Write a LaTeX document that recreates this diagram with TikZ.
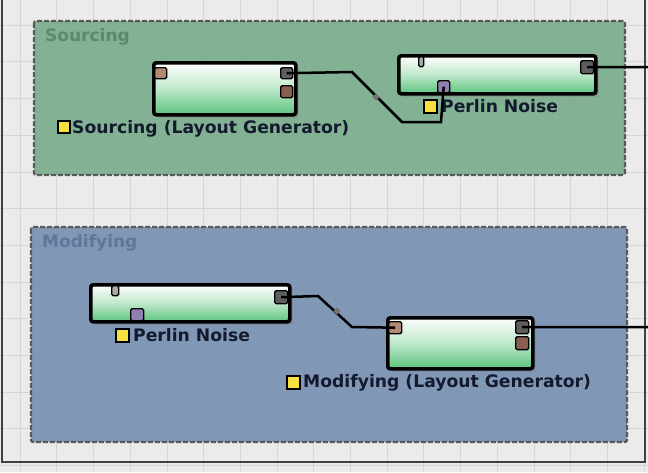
\documentclass[tikz,border=0pt]{standalone}
\usepackage{fontspec}
\setmainfont{DejaVu Sans}
\usetikzlibrary{shadows}
\definecolor{bg}{HTML}{EBEBEB}
\definecolor{gridc}{HTML}{D6D6D6}
\definecolor{srcfill}{HTML}{7AAE8C}
\definecolor{modfill}{HTML}{7890B2}
\definecolor{srctext}{HTML}{5A8A6A}
\definecolor{modtext}{HTML}{62769A}
\definecolor{nodegreen}{HTML}{5CC47C}
\definecolor{labeltext}{HTML}{141A2E}
\definecolor{porttan}{HTML}{B08A72}
\definecolor{portgray}{HTML}{5E5E5E}
\definecolor{portbrown}{HTML}{8A5E4E}
\definecolor{portpurple}{HTML}{9080B4}
\definecolor{porttab}{HTML}{A8A8A8}
\definecolor{yel}{HTML}{F8E040}
\begin{document}
\begin{tikzpicture}[x=1pt,y=-1pt,
  group/.style={draw=black!65, line width=2.2pt, dash pattern=on 5pt off 2pt, rounded corners=2pt},
  grouplabel/.style={anchor=west, inner sep=0pt, font=\bfseries\fontsize{17}{19}\selectfont},
  genbox/.style={draw=black, line width=3.6pt, rounded corners=2.5pt, top color=white, bottom color=nodegreen, middle color=nodegreen!40, anchor=north west, inner sep=0pt, drop shadow={shadow xshift=3pt, shadow yshift=-3pt, opacity=0.35}},
  port/.style={draw=black, line width=1.4pt, rounded corners=1.5pt, inner sep=0pt, anchor=north west},
  tag/.style={draw=black, line width=2.4pt, fill=yel, minimum width=12pt, minimum height=12pt, inner sep=0pt, anchor=north west},
  lbl/.style={anchor=west, inner sep=0pt, text=labeltext, font=\bfseries\fontsize{17.2}{19}\selectfont},
  wire/.style={draw=black, line width=2.5pt},
  dot/.style={fill=black!55, minimum size=5pt, inner sep=0pt}
]
\useasboundingbox (0,0) rectangle (648,472);
\fill[bg] (0,0) rectangle (648,472);
% grid
\foreach \i in {0,...,17} {\draw[gridc, line width=0.6pt] ({20+36.7*\i},0) -- ({20+36.7*\i},472);}
\foreach \j in {0,...,12} {\draw[gridc, line width=0.6pt] (0,{25+36.7*\j}) -- (648,{25+36.7*\j});}
% frame
\draw[black!75, line width=1.8pt] (2,0) -- (2,462) -- (645,462) -- (645,0);

% groups
\draw[group, fill=srcfill, fill opacity=0.92] (34,21) rectangle (625,175);
\node[grouplabel, text=srctext] (srclbl) at (45,37) {Sourcing};
\draw[group, fill=modfill, fill opacity=0.92] (31,227) rectangle (627,442);
\node[grouplabel, text=modtext] (modlbl) at (42,243) {Modifying};

% Sourcing layout generator
\node[genbox, minimum width=142pt, minimum height=52pt] (g1) at (152,61) {};
\node[port, fill=porttan, minimum width=12pt, minimum height=11pt] (g1in) at (154,67) {};
\node[port, fill=portgray, minimum width=12pt, minimum height=11pt] (g1o1) at (280,67) {};
\node[port, fill=portbrown, minimum width=12pt, minimum height=12pt] (g1o2) at (280,85) {};
\node[tag] (t1) at (57,120) {};
\node[lbl] (l1) at (72,129) {Sourcing (Layout Generator)};

% Perlin noise (top)
\node[genbox, minimum width=197pt, minimum height=38pt] (p1) at (397,54) {};
\node[port, fill=porttab, minimum width=5pt, minimum height=10pt] (p1tab) at (418,56) {};
\node[port, fill=portpurple, minimum width=12pt, minimum height=12pt] (p1in) at (437,80) {};
\node[port, fill=portgray, minimum width=13pt, minimum height=13pt] (p1o) at (580,60) {};
\node[tag, minimum width=13pt, minimum height=13pt] (t2) at (423,99) {};
\node[lbl] (l2) at (441,106) {Perlin Noise};

% Modifying: Perlin noise
\node[genbox, minimum width=199pt, minimum height=37pt] (p2) at (89,283) {};
\node[port, fill=porttab, minimum width=7pt, minimum height=10pt] (p2tab) at (111,285) {};
\node[port, fill=portpurple, minimum width=13pt, minimum height=12pt] (p2in) at (130,308) {};
\node[port, fill=portgray, minimum width=13pt, minimum height=13pt] (p2o) at (274,290) {};
\node[tag, minimum width=13pt, minimum height=13pt] (t3) at (115,328) {};
\node[lbl] (l3) at (133,335) {Perlin Noise};

% Modifying layout generator
\node[genbox, minimum width=145pt, minimum height=51pt] (g2) at (386,316) {};
\node[port, fill=porttan, minimum width=13pt, minimum height=12pt] (g2in) at (388,321) {};
\node[port, fill=portgray, minimum width=13pt, minimum height=13pt] (g2o1) at (515,320) {};
\node[port, fill=portbrown, minimum width=13pt, minimum height=13pt] (g2o2) at (515,336) {};
\node[tag, minimum width=13pt, minimum height=13pt] (t4) at (286,375) {};
\node[lbl] (l4) at (303,383) {Modifying (Layout Generator)};

% wires
\coordinate (e1) at (648,67);
\coordinate (e2) at (648,327);
\draw[wire] (g1o1.center) -- (352,72) -- (402,122) -- (441,122) -- (p1in.center);
\node[dot, rotate=45] (d1) at (376,97) {};
\draw[wire] (p1o.center) -- (e1);
\draw[wire] (p2o.center) -- (318,296) -- (352,327) -- (g2in.center);
\node[dot, rotate=45] (d2) at (337,311) {};
\draw[wire] (g2o1.center) -- (e2);
\end{tikzpicture}
\end{document}
